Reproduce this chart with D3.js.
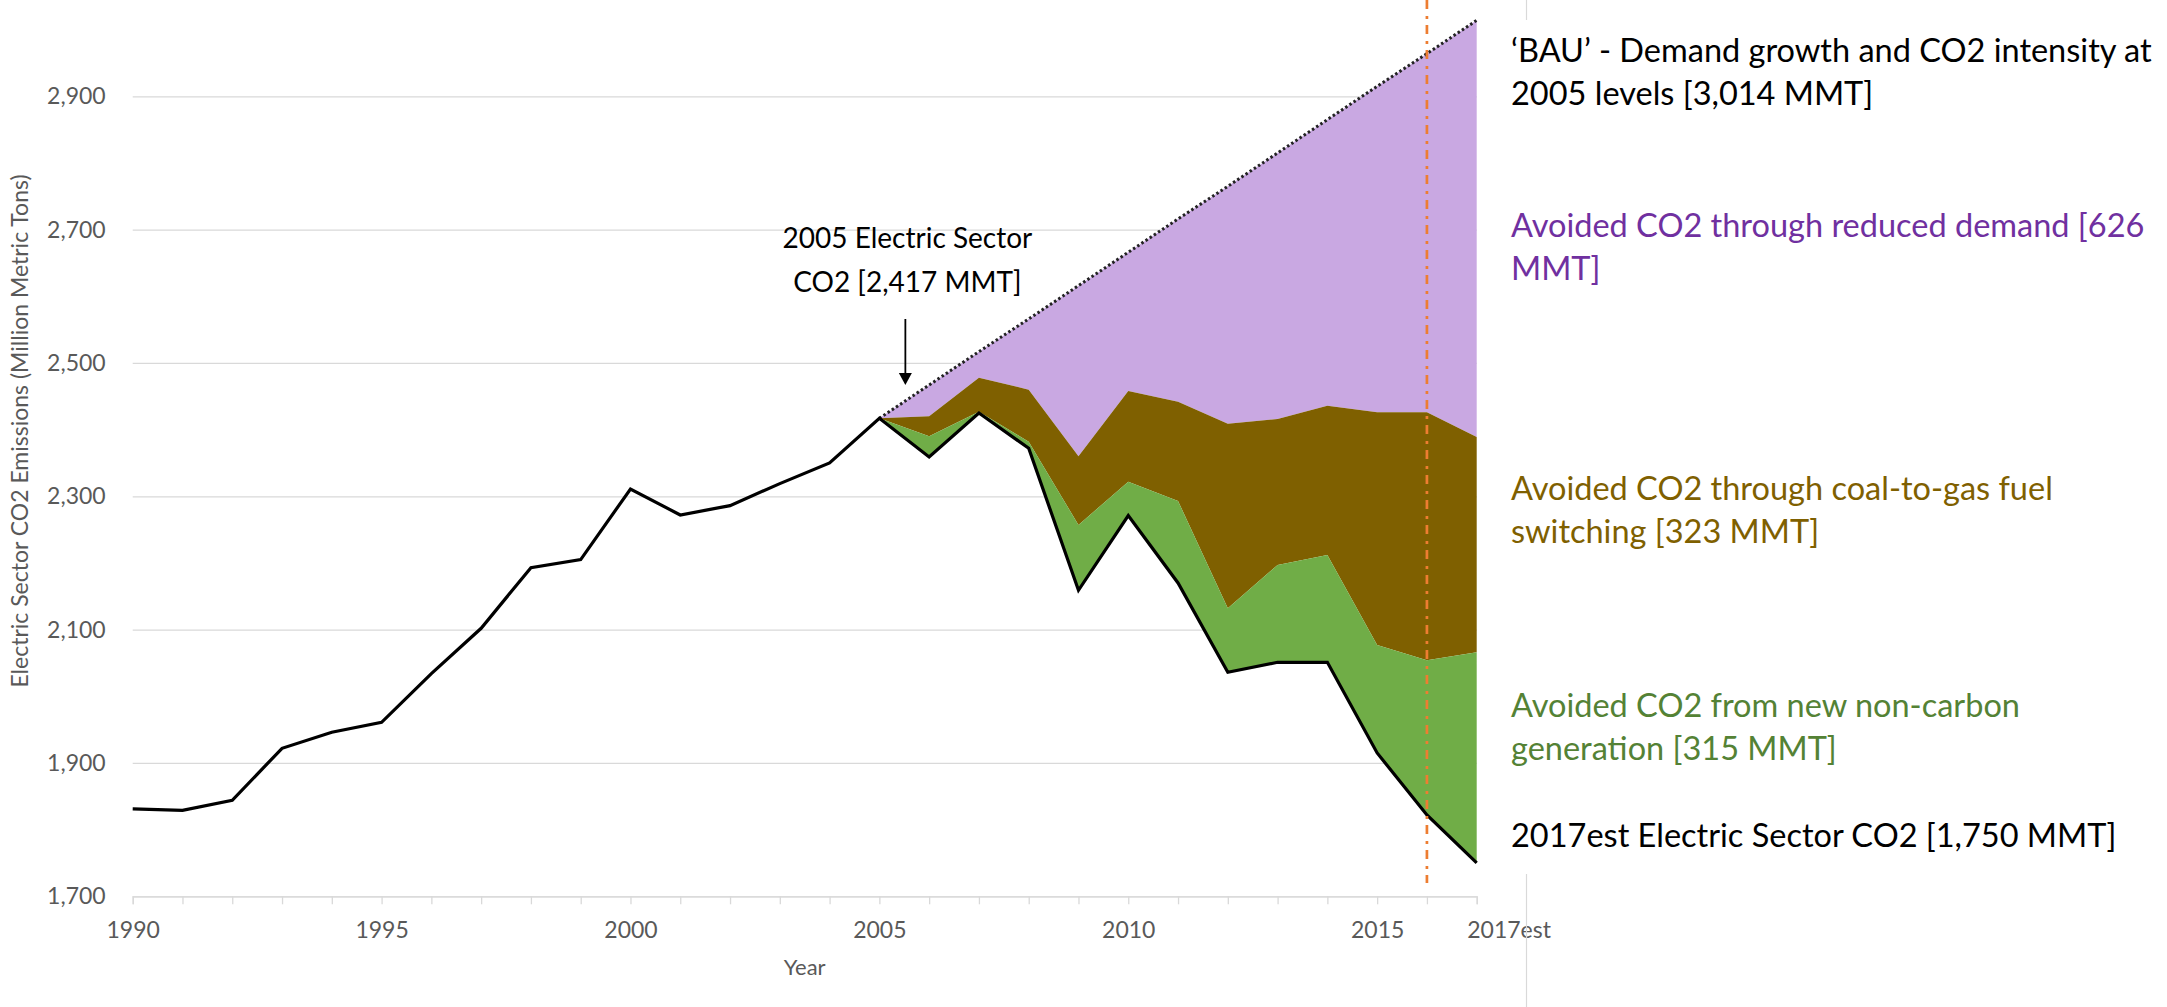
<!DOCTYPE html>
<html>
<head>
<meta charset="utf-8">
<script src="https://cdn.jsdelivr.net/npm/d3@7"></script>
<style>
  body { margin: 0; background: #fff; }
  svg { display: block; }
  text { font-family: Lato, "Open Sans", sans-serif; }
</style>
</head>
<body>
<svg width="2167" height="1007"></svg>
<script>
// years on the x axis
var years = [1990, 1991, 1992, 1993, 1994, 1995, 1996, 1997, 1998, 1999,
             2000, 2001, 2002, 2003, 2004, 2005, 2006, 2007, 2008, 2009,
             2010, 2011, 2012, 2013, 2014, 2015, 2016, 2017];

// actual electric sector CO2 (MMT)
var actual = [1831, 1829, 1844, 1922, 1946, 1961, 2034, 2102, 2193, 2205,
              2311, 2272, 2286, 2319, 2350, 2417, 2359, 2425, 2372, 2159,
              2271, 2170, 2036, 2051, 2051, 1915, 1822, 1750];

// stacked tops from 2005 on
var stackYears = [2005, 2006, 2007, 2008, 2009, 2010, 2011, 2012, 2013, 2014, 2015, 2016, 2017];
var greenTop = [2417, 2390, 2427, 2382, 2257, 2322, 2293, 2132, 2197, 2212, 2077, 2054, 2066];
var brownTop = [2417, 2420, 2478, 2460, 2360, 2458, 2442, 2409, 2416, 2436, 2426, 2426, 2389];
var bauTop   = [2417, 2467, 2517, 2566, 2616, 2666, 2716, 2765, 2815, 2865, 2915, 2964, 3014];

var yTicks = [1700, 1900, 2100, 2300, 2500, 2700, 2900];
var xLabelYears = [1990, 1995, 2000, 2005, 2010, 2015, 2017];
var xLabels = ["1990", "1995", "2000", "2005", "2010", "2015", "2017est"];
var markerYear = 2016;

drawChart();

function drawChart() {
  var svg = d3.select("svg");

  var plotLeft = 132.7, plotRight = 1476.7, plotTop = 96.3, plotBottom = 896.3;

  var x = d3.scaleLinear().domain([1990, 2017]).range([plotLeft, plotRight]);
  var y = d3.scaleLinear().domain([1700, 2900]).range([plotBottom, plotTop]);

  // gridlines
  var grid = svg.append("g")
    .attr("transform", "translate(" + plotLeft + ",0)")
    .call(d3.axisLeft(y).tickValues(yTicks).tickSize(-(plotRight - plotLeft)).tickFormat(""));
  grid.select(".domain").remove();
  grid.selectAll("line").attr("stroke", "#d9d9d9").attr("stroke-width", 1.3);

  // y labels
  var yAxis = svg.append("g")
    .attr("transform", "translate(" + plotLeft + ",0)")
    .call(d3.axisLeft(y).tickValues(yTicks).tickSize(0).tickPadding(27)
      .tickFormat(d3.format(",")));
  yAxis.select(".domain").remove();
  yAxis.selectAll("text")
    .attr("font-size", 23)
    .attr("fill", "#595959")
    .style("font-family", "Lato, sans-serif");

  // x axis
  var xAxis = svg.append("g")
    .attr("transform", "translate(0," + plotBottom + ")")
    .call(d3.axisBottom(x).tickValues(years).tickSize(8).tickPadding(17)
      .tickFormat(function(d) {
        var i = xLabelYears.indexOf(d);
        return i < 0 ? "" : xLabels[i];
      }));
  xAxis.select(".domain").attr("stroke", "#d9d9d9").attr("stroke-width", 1.3);
  xAxis.selectAll("line").attr("stroke", "#d9d9d9").attr("stroke-width", 1.3);
  xAxis.selectAll("text")
    .attr("font-size", 23)
    .attr("fill", "#595959")
    .style("font-family", "Lato, sans-serif");
  // 2017est sits to the right of its tick
  xAxis.selectAll(".tick text")
    .filter(function(d) { return d == 2017; })
    .attr("text-anchor", "start")
    .attr("x", -10);

  // axis titles
  svg.append("text")
    .attr("transform", "translate(28,431) rotate(-90)")
    .attr("text-anchor", "middle")
    .attr("font-size", 23)
    .attr("fill", "#595959")
    .text("Electric Sector CO2 Emissions (Million Metric Tons)");

  svg.append("text")
    .attr("x", (plotLeft + plotRight) / 2)
    .attr("y", 975)
    .attr("text-anchor", "middle")
    .attr("font-size", 22)
    .attr("fill", "#595959")
    .text("Year");

  // stacked areas
  var rows = stackYears.map(function(yr, i) {
    return {
      year: yr,
      actual: actual[years.indexOf(yr)],
      green: greenTop[i],
      brown: brownTop[i],
      bau: bauTop[i]
    };
  });

  function band(lo, hi) {
    return d3.area()
      .x(function(d) { return x(d.year); })
      .y0(function(d) { return y(d[lo]); })
      .y1(function(d) { return y(d[hi]); });
  }

  svg.append("path").datum(rows).attr("d", band("brown", "bau")).attr("fill", "#c9a8e2");
  svg.append("path").datum(rows).attr("d", band("green", "brown")).attr("fill", "#7f6000");
  svg.append("path").datum(rows).attr("d", band("actual", "green")).attr("fill", "#70ad47");

  // BAU dotted line
  svg.append("path").datum(rows)
    .attr("d", d3.line().x(function(d) { return x(d.year); }).y(function(d) { return y(d.bau); }))
    .attr("fill", "none")
    .attr("stroke", "#222")
    .attr("stroke-width", 3)
    .attr("stroke-dasharray", "2.5,2.5");

  // actual emissions line
  svg.append("path").datum(actual)
    .attr("d", d3.line().x(function(d, i) { return x(years[i]); }).y(function(d) { return y(d); }))
    .attr("fill", "none")
    .attr("stroke", "#000")
    .attr("stroke-width", 3.2);

  // 2016 marker line (dash-dot)
  svg.append("line")
    .attr("x1", x(markerYear)).attr("x2", x(markerYear))
    .attr("y1", 0).attr("y2", 883)
    .attr("stroke", "#ed7d31")
    .attr("stroke-width", 2.7)
    .attr("stroke-dasharray", "9,7,3,6");

  // light frame line on the right
  svg.append("line").attr("x1", 1526.5).attr("x2", 1526.5).attr("y1", 0).attr("y2", 20)
    .attr("stroke", "#d9d9d9").attr("stroke-width", 1.2);
  svg.append("line").attr("x1", 1526.5).attr("x2", 1526.5).attr("y1", 874).attr("y2", 1007)
    .attr("stroke", "#d9d9d9").attr("stroke-width", 1.2);

  // 2005 annotation + arrow
  var ax = x(2005) + 26;
  var note = svg.append("text")
    .attr("text-anchor", "middle")
    .attr("font-size", 28)
    .attr("fill", "#000");
  note.append("tspan").attr("x", ax + 2).attr("y", 248).text("2005 Electric Sector");
  note.append("tspan").attr("x", ax + 2).attr("y", 292).text("CO2 [2,417 MMT]");

  svg.append("line")
    .attr("x1", ax).attr("x2", ax).attr("y1", 319).attr("y2", 374)
    .attr("stroke", "#000").attr("stroke-width", 1.8);
  svg.append("path")
    .attr("d", "M" + (ax - 6.5) + ",373 L" + (ax + 6.5) + ",373 L" + ax + ",385 Z")
    .attr("fill", "#000");

  // right side labels
  var labels = [
    { lines: ["\u2018BAU\u2019 - Demand growth and CO2 intensity at", "2005 levels [3,014 MMT]"], y: 62, color: "#000" },
    { lines: ["Avoided CO2 through reduced demand [626", "MMT]"], y: 237, color: "#7030a0" },
    { lines: ["Avoided CO2 through coal-to-gas fuel", "switching [323 MMT]"], y: 500, color: "#7f6000" },
    { lines: ["Avoided CO2 from new non-carbon", "generation [315 MMT]"], y: 717, color: "#548235" },
    { lines: ["2017est Electric Sector CO2 [1,750 MMT]"], y: 847, color: "#000" }
  ];

  labels.forEach(function(l) {
    var t = svg.append("text")
      .attr("font-size", 32.5)
      .attr("fill", l.color);
    l.lines.forEach(function(s, i) {
      t.append("tspan").attr("x", 1511).attr("y", l.y + i * 43).text(s);
    });
  });
}
</script>
</body>
</html>
